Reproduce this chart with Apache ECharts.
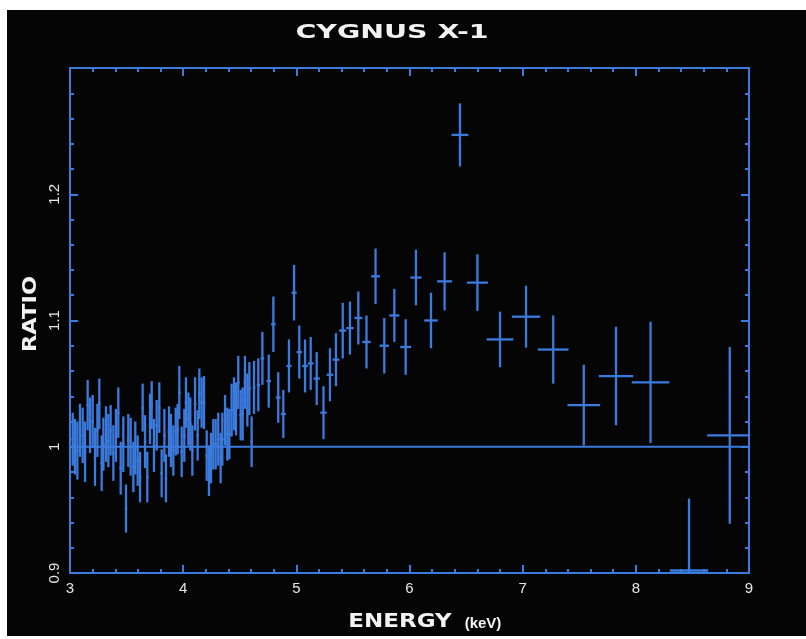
<!DOCTYPE html>
<html>
<head>
<meta charset="utf-8">
<script src="https://cdn.jsdelivr.net/npm/echarts@6/dist/echarts.min.js"></script>
<style>
  body { margin: 0; background: #ffffff; }
  #bg { position: absolute; left: 7px; top: 10px; width: 799px; height: 626px; background: #050505; }
  #main { position: absolute; left: 0; top: 0; width: 806px; height: 639px; }
</style>
</head>
<body>
<div id="bg"></div>
<div id="main"></div>
<script>
// energy bin centres (keV)
const energy = [
  3.024, 3.044, 3.065, 3.088, 3.112, 3.133, 3.156, 3.177, 3.200, 3.221,
  3.242, 3.259, 3.280, 3.295, 3.318, 3.339, 3.359, 3.383, 3.406, 3.427,
  3.448, 3.471, 3.495, 3.515, 3.536, 3.560, 3.577, 3.598, 3.619, 3.642,
  3.663, 3.683, 3.707, 3.722, 3.742, 3.766, 3.789, 3.810, 3.834, 3.848,
  3.875, 3.892, 3.913, 3.934, 3.951, 3.966, 3.987, 4.010, 4.025, 4.046,
  4.063, 4.081, 4.105, 4.128, 4.143, 4.163, 4.184, 4.208, 4.228, 4.246,
  4.266, 4.287, 4.310, 4.331, 4.346, 4.370, 4.390, 4.408, 4.428, 4.449,
  4.467, 4.487, 4.508, 4.526, 4.546, 4.567, 4.585, 4.605, 4.626, 4.664,
  4.700, 4.756, 4.797, 4.840, 4.885, 4.935, 4.980, 5.026, 5.077, 5.127,
  5.180, 5.240, 5.297, 5.350, 5.410, 5.474, 5.548, 5.620, 5.700, 5.777,
  5.866, 5.966, 6.057, 6.190, 6.310, 6.446, 6.600, 6.800, 7.030, 7.270,
  7.540, 7.825, 8.130, 8.470, 8.830
]
// half width of each energy bin
const energyErr = [
  0.011, 0.011, 0.011, 0.011, 0.011, 0.011, 0.011, 0.011, 0.011, 0.011,
  0.011, 0.011, 0.011, 0.011, 0.011, 0.011, 0.011, 0.011, 0.011, 0.011,
  0.011, 0.011, 0.011, 0.011, 0.011, 0.011, 0.011, 0.011, 0.011, 0.011,
  0.011, 0.011, 0.011, 0.011, 0.011, 0.011, 0.011, 0.011, 0.011, 0.011,
  0.012, 0.012, 0.012, 0.012, 0.012, 0.012, 0.012, 0.012, 0.012, 0.012,
  0.012, 0.012, 0.012, 0.012, 0.012, 0.012, 0.012, 0.012, 0.012, 0.012,
  0.012, 0.012, 0.012, 0.012, 0.012, 0.012, 0.012, 0.012, 0.012, 0.012,
  0.012, 0.012, 0.012, 0.012, 0.012, 0.012, 0.012, 0.012, 0.012, 0.014,
  0.016, 0.020, 0.020, 0.021, 0.022, 0.022, 0.023, 0.024, 0.025, 0.026,
  0.027, 0.028, 0.029, 0.030, 0.031, 0.033, 0.035, 0.037, 0.039, 0.042,
  0.045, 0.048, 0.050, 0.060, 0.066, 0.074, 0.093, 0.118, 0.125, 0.135,
  0.144, 0.152, 0.166, 0.170, 0.200
]
// data / model ratio
const ratio = [
  1.006, 1.000, 0.997, 1.013, 1.009, 0.996, 1.033, 1.017, 1.020, 0.992,
  1.013, 1.034, 0.987, 1.002, 1.010, 1.005, 1.013, 0.995, 1.009, 1.027,
  0.983, 1.002, 0.951, 1.005, 1.000, 0.984, 0.999, 0.989, 0.976, 1.031,
  1.004, 0.976, 1.022, 1.033, 1.001, 1.017, 1.031, 0.979, 1.009, 0.975,
  1.012, 1.005, 0.997, 1.012, 1.014, 1.043, 0.996, 1.009, 1.035, 1.022,
  1.018, 0.997, 1.034, 1.009, 1.042, 1.035, 1.035, 0.993, 0.981, 0.991,
  1.002, 1.002, 1.006, 0.991, 1.006, 1.021, 1.010, 1.010, 1.029, 1.034,
  1.030, 1.051, 1.025, 1.026, 1.051, 1.037, 1.046, 1.004, 1.047, 1.049,
  1.070, 1.052, 1.097, 1.039, 1.026, 1.064, 1.122, 1.075, 1.064, 1.066,
  1.054, 1.027, 1.057, 1.069, 1.092, 1.094, 1.102, 1.083, 1.135, 1.080,
  1.104, 1.079, 1.134, 1.100, 1.131, 1.247, 1.130, 1.085, 1.103, 1.077,
  1.033, 1.056, 1.051, 0.902, 1.009
]
// 1 sigma error on the ratio
const ratioErr = [
  0.021, 0.022, 0.023, 0.021, 0.022, 0.024, 0.020, 0.022, 0.021, 0.023,
  0.021, 0.020, 0.022, 0.021, 0.022, 0.021, 0.020, 0.022, 0.021, 0.020,
  0.021, 0.022, 0.019, 0.021, 0.023, 0.020, 0.021, 0.020, 0.020, 0.019,
  0.021, 0.020, 0.020, 0.019, 0.021, 0.020, 0.020, 0.019, 0.021, 0.019,
  0.020, 0.021, 0.020, 0.019, 0.020, 0.021, 0.020, 0.021, 0.020, 0.021,
  0.021, 0.020, 0.021, 0.020, 0.020, 0.020, 0.021, 0.020, 0.020, 0.020,
  0.020, 0.020, 0.021, 0.020, 0.021, 0.020, 0.021, 0.020, 0.021, 0.021,
  0.021, 0.021, 0.020, 0.021, 0.021, 0.021, 0.021, 0.020, 0.021, 0.021,
  0.021, 0.021, 0.022, 0.020, 0.019, 0.021, 0.022, 0.021, 0.021, 0.021,
  0.021, 0.021, 0.021, 0.021, 0.022, 0.021, 0.021, 0.021, 0.022, 0.022,
  0.021, 0.022, 0.022, 0.022, 0.023, 0.025, 0.0225, 0.022, 0.0245, 0.027,
  0.032, 0.039, 0.048, 0.057, 0.070
]
// unity line
const unityLine = [[3, 1], [9, 1]]

const BLUE = '#3b7bde'
const TEXT = '#e6e6e6'

const points = energy.map((e, i) => [e, ratio[i], energyErr[i], ratioErr[i]])

function renderCross(params, api) {
  const x = api.value(0), y = api.value(1), xe = api.value(2), ye = api.value(3)
  const h0 = api.coord([x - xe, y]), h1 = api.coord([x + xe, y])
  const v0 = api.coord([x, y - ye]), v1 = api.coord([x, y + ye])
  const style = { stroke: BLUE, lineWidth: 2.3 }
  return {
    type: 'group',
    children: [
      { type: 'line', shape: { x1: h0[0], y1: h0[1], x2: h1[0], y2: h1[1] }, style: style },
      { type: 'line', shape: { x1: v0[0], y1: v0[1], x2: v1[0], y2: v1[1] }, style: style }
    ]
  }
}

const frameLine = { show: true, lineStyle: { color: BLUE, width: 2 } }
const majorTick = { show: true, inside: true, length: 8, lineStyle: { color: BLUE, width: 2 } }
const minorTick = { show: true, splitNumber: 5, length: 4, lineStyle: { color: BLUE, width: 2 } }
const labelFont = { color: TEXT, fontSize: 15, fontFamily: 'Liberation Sans' }

let chart = echarts.init(document.getElementById('main'), null, { renderer: 'canvas' })

let option = {
  backgroundColor: 'transparent',
  animation: false,
  grid: { left: 70, top: 68, width: 679, height: 505 },
  xAxis: [
    {
      type: 'value', min: 3, max: 9, interval: 1, position: 'bottom',
      axisLine: frameLine, axisTick: majorTick, minorTick: minorTick,
      splitLine: { show: false },
      axisLabel: Object.assign({ margin: 8 }, labelFont)
    },
    {
      type: 'value', min: 3, max: 9, interval: 1, position: 'top',
      axisLine: frameLine, axisTick: majorTick, minorTick: minorTick,
      splitLine: { show: false }, axisLabel: { show: false }
    }
  ],
  yAxis: [
    {
      type: 'value', min: 0.9, max: 1.3, interval: 0.1, position: 'left',
      axisLine: frameLine, axisTick: majorTick, minorTick: minorTick,
      splitLine: { show: false },
      axisLabel: Object.assign({
        rotate: 90, margin: 8,
        formatter: v => (v > 1.25 ? '' : String(+v.toFixed(1)))
      }, labelFont)
    },
    {
      type: 'value', min: 0.9, max: 1.3, interval: 0.1, position: 'right',
      axisLine: frameLine, axisTick: majorTick, minorTick: minorTick,
      splitLine: { show: false }, axisLabel: { show: false }
    }
  ],
  graphic: [
    {
      type: 'text', x: 392, y: 33, scaleX: 1.42,
      style: { text: 'CYGNUS X-1', fill: '#f2f2f2', fontSize: 20, fontWeight: 'bold',
        fontFamily: 'DejaVu Sans', align: 'center', verticalAlign: 'middle' }
    },
    {
      type: 'text', x: 400, y: 622, scaleX: 1.15,
      style: { text: 'ENERGY', fill: '#f2f2f2', fontSize: 20, fontWeight: 'bold',
        fontFamily: 'DejaVu Sans', align: 'center', verticalAlign: 'middle' }
    },
    {
      type: 'text', x: 483, y: 624,
      style: { text: '(keV)', fill: '#f2f2f2', fontSize: 15, fontWeight: 'bold',
        fontFamily: 'Liberation Sans', align: 'center', verticalAlign: 'middle' }
    },
    {
      type: 'text', x: 31, y: 314, rotation: Math.PI / 2, scaleX: 1.13,
      style: { text: 'RATIO', fill: '#f2f2f2', fontSize: 20, fontWeight: 'bold',
        fontFamily: 'DejaVu Sans', align: 'center', verticalAlign: 'middle' }
    }
  ],
  series: [
    {
      type: 'line',
      data: unityLine,
      symbol: 'none',
      lineStyle: { color: BLUE, width: 2 },
      silent: true
    },
    {
      type: 'custom',
      renderItem: renderCross,
      data: points,
      encode: { x: 0, y: 1 },
      clip: true
    }
  ]
}

chart.setOption(option)
</script>
</body>
</html>
